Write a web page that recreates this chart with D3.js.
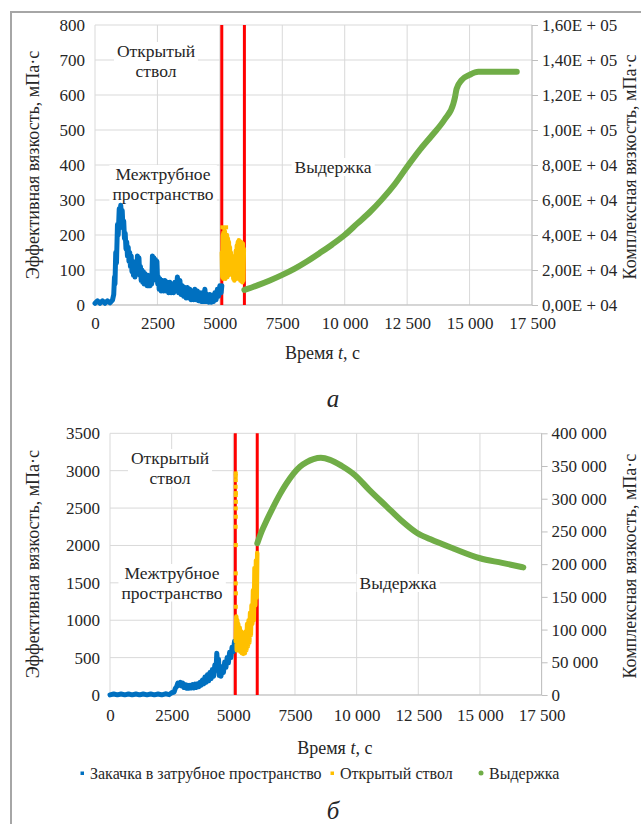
<!DOCTYPE html>
<html><head><meta charset="utf-8">
<script src="https://cdn.jsdelivr.net/npm/d3@7"></script>
<style>
body{margin:0;background:#fff}
svg{display:block}
</style>
</head><body><svg id="c" width="641" height="824"></svg>
<script>
// ---------- shared x axis ----------
const xTicks = [0, 2500, 5000, 7500, 10000, 12500, 15000, 17500];
const xTickLabels = ["0", "2500", "5000", "7500", "10 000", "12 500", "15 000", "17 500"];

// ---------- panel a ----------
const aLeftTicks = [0, 100, 200, 300, 400, 500, 600, 700, 800];
const aLeftLabels = ["0", "100", "200", "300", "400", "500", "600", "700", "800"];
const aRightTicks = [0, 20000, 40000, 60000, 80000, 100000, 120000, 140000, 160000];
const aRightLabels = ["0,00E + 04", "2,00E + 04", "4,00E + 04", "6,00E + 04", "8,00E + 04",
  "1,00E + 05", "1,20E + 05", "1,40E + 05", "1,60E + 05"];
const aRedLines = [5077, 5983];
// effective viscosity, annulus injection (t, mPa·s)
const aBlue = [[0,5],[100,12],[200,5],[300,12],[400,5],[500,12],[600,6],[700,14],[750,30],[780,80],[800,60],
  [830,150],[860,120],[900,230],[930,200],[970,275],[1000,250],[1030,285],[1060,255],[1090,270],[1120,220],
  [1150,240],[1180,190],[1210,205],[1240,160],[1270,180],[1300,140],[1330,165],[1360,125],[1390,150],[1420,110],
  [1450,140],[1480,95],[1510,125],[1540,85],[1570,115],[1600,80],[1630,110],[1660,90],[1700,140],[1730,100],
  [1760,135],[1790,85],[1820,110],[1850,70],[1880,100],[1910,65],[1940,95],[1970,60],[2000,90],[2030,60],
  [2060,85],[2090,55],[2120,85],[2150,55],[2180,80],[2210,55],[2240,80],[2270,60],[2300,140],[2330,70],
  [2360,135],[2390,80],[2420,130],[2450,75],[2480,125],[2510,60],[2540,80],[2570,45],[2600,75],[2650,40],
  [2700,70],[2750,40],[2800,70],[2850,40],[2900,65],[2950,35],[3000,65],[3050,35],[3100,60],[3150,35],
  [3200,65],[3250,40],[3300,80],[3350,35],[3400,70],[3450,30],[3500,55],[3550,25],[3600,50],[3650,20],
  [3700,50],[3750,20],[3800,45],[3850,15],[3900,40],[3950,15],[4000,45],[4050,15],[4100,40],[4150,12],
  [4200,35],[4250,10],[4300,35],[4350,10],[4400,45],[4450,10],[4500,30],[4550,8],[4600,30],[4650,8],
  [4700,28],[4750,10],[4800,35],[4850,15],[4900,45],[4950,25],[5000,55],[5050,35],[5080,55]];
// effective viscosity, open hole
const aYellow = [[5080,150],[5100,80],[5120,200],[5140,75],[5160,205],[5180,80],[5200,210],[5220,75],[5240,200],
  [5260,80],[5280,200],[5300,80],[5320,190],[5340,85],[5360,180],[5380,90],[5400,165],[5420,90],[5440,150],
  [5460,95],[5480,125],[5500,85],[5520,115],[5540,75],[5560,125],[5580,70],[5600,140],[5620,75],[5640,155],
  [5660,75],[5680,170],[5700,80],[5720,180],[5740,80],[5760,185],[5780,75],[5800,182],[5820,70],[5840,180],
  [5860,68],[5880,178],[5900,65],[5920,175],[5940,70],[5960,160]];
const aYellowDots = [[5100,222],[5180,215],[5250,222],[5140,205]];
// complex viscosity, holding (right axis)
const aGreen = [[5983,8600],[6500,11200],[7000,14000],[7500,17200],[8000,20800],[8500,25000],[9000,29700],
  [9500,34600],[10000,40000],[10500,46500],[11000,53000],[11500,60500],[12000,69000],[12500,79000],
  [13000,88500],[13500,97000],[14000,106000],[14350,115000],[14420,119000],[14480,123500],[14680,128500],
  [15000,131500],[15350,133300],[16000,133300],[16890,133300]];

// ---------- panel б ----------
const bLeftTicks = [0, 500, 1000, 1500, 2000, 2500, 3000, 3500];
const bLeftLabels = ["0", "500", "1000", "1500", "2000", "2500", "3000", "3500"];
const bRightTicks = [0, 50000, 100000, 150000, 200000, 250000, 300000, 350000, 400000];
const bRightLabels = ["0", "50 000", "100 000", "150 000", "200 000", "250 000", "300 000", "350 000", "400 000"];
const bRedLines = [5080, 5970];
const bBlue = [[0,2],[150,14],[300,2],[450,14],[600,2],[750,14],[900,2],[1050,14],[1200,2],[1350,14],[1500,2],
  [1650,14],[1800,2],[1950,14],[2100,2],[2250,16],[2400,5],[2500,30],[2600,40],[2650,90],[2700,110],
  [2750,160],[2800,130],[2850,170],[2900,120],[2950,160],[3000,100],[3050,140],[3100,90],[3150,130],[3200,90],
  [3250,130],[3300,95],[3350,140],[3400,95],[3450,145],[3500,100],[3550,150],[3600,110],[3650,170],[3700,130],
  [3750,200],[3800,150],[3850,240],[3900,170],[3950,270],[4000,190],[4050,300],[4100,220],[4150,340],[4200,250],
  [4250,400],[4300,330],[4330,560],[4360,420],[4400,480],[4430,260],[4470,330],[4500,250],[4550,380],[4600,300],
  [4650,440],[4700,370],[4750,500],[4800,430],[4850,570],[4900,500],[4950,640],[5000,580],[5050,720],[5080,680]];
const bYellow = [[5100,720],[5120,1050],[5140,600],[5160,1000],[5180,620],[5200,950],[5230,600],[5260,900],
  [5290,580],[5320,850],[5350,560],[5380,800],[5410,550],[5440,780],[5470,560],[5500,850],[5530,600],
  [5560,950],[5590,650],[5620,1000],[5650,700],[5680,1100],[5710,800],[5740,1200],[5770,950],[5800,1400],
  [5830,1000],[5860,1700],[5890,1200],[5920,1800],[5950,1300],[5970,1900]];
const bYellowDots = [[5100,2964],[5100,2874],[5095,2785],[5100,2674],[5105,2584],[5100,2496],[5100,2384],
  [5095,2250],[5100,2005],[5100,1627],[5100,1493],[5105,1360],[5100,1180],[5100,2930],[5105,2700]];
const bGreen = [[5973,232000],[6150,250000],[6354,267000],[6600,286000],[6893,307000],[7150,323000],
  [7432,338000],[7700,349000],[7976,356000],[8250,360500],[8550,362500],[8920,359500],[9400,350000],
  [9934,336000],[10500,314000],[11219,288000],[11800,267000],[12435,248000],[13000,238000],[13920,224000],
  [15002,209000],[15900,202000],[16758,195000]];

const legendItems = ["Закачка в затрубное пространство", "Открытый ствол", "Выдержка"];

// pick an installed serif face (Times-like) if there is one
function pickFont(){
  const cands = ["Liberation Serif","Tinos","Times New Roman","DejaVu Serif","Noto Serif","FreeSerif","Nimbus Roman"];
  const cv = document.createElement("canvas").getContext("2d");
  const s = "Открытый ствол 0123456789 Wwmm";
  function w(f){ cv.font = "40px " + f; return cv.measureText(s).width; }
  const baseM = w("monospace"), baseS = w("sans-serif");
  for (const c of cands){
    if (w(`"${c}", monospace`) !== baseM || w(`"${c}", sans-serif`) !== baseS) return `"${c}", serif`;
  }
  return `"Liberation Sans", Arial, sans-serif`;
}
const FONT = pickFont();

const COL = {blue:"#0070c0", yellow:"#ffc000", green:"#70ad47", red:"#ff0000", grid:"#d9d9d9", axis:"#bfbfbf", text:"#262626"};
const svg = d3.select("#c").attr("font-family", FONT).style("font-family", FONT);

// frame
svg.append("rect").attr("x",11).attr("y",12).attr("width",700).attr("height",900)
  .attr("fill","none").attr("stroke","#a6a6a6").attr("stroke-width",2);

function txt(sel){ return sel.style("font-family", FONT).attr("fill", COL.text); }

function panel(c){
  const g = svg.append("g");
  const x = d3.scaleLinear().domain([0,17500]).range([c.l,c.r]);
  const yL = d3.scaleLinear().domain([0,c.lMax]).range([c.b,c.t]);
  const yR = d3.scaleLinear().domain([0,c.rMax]).range([c.b,c.t]);

  // grid
  g.append("g").selectAll("line").data(c.lTicks).join("line")
    .attr("x1",c.l).attr("x2",c.r).attr("y1",d=>yL(d)).attr("y2",d=>yL(d))
    .attr("stroke",COL.grid).attr("stroke-width",1);
  g.append("g").selectAll("line").data(xTicks).join("line")
    .attr("x1",d=>x(d)).attr("x2",d=>x(d)).attr("y1",c.t).attr("y2",c.b)
    .attr("stroke",COL.grid).attr("stroke-width",1);
  g.append("line").attr("x1",c.l).attr("x2",c.r).attr("y1",c.b).attr("y2",c.b)
    .attr("stroke",COL.axis).attr("stroke-width",1);

  // axes
  const ax = g.append("g").attr("transform",`translate(0,${c.b})`)
    .call(d3.axisBottom(x).tickValues(xTicks).tickFormat((d,i)=>xTickLabels[i]).tickSize(0).tickPadding(c.xPad));
  const al = g.append("g").attr("transform",`translate(${c.l},0)`)
    .call(d3.axisLeft(yL).tickValues(c.lTicks).tickFormat((d,i)=>c.lLabels[i]).tickSize(0).tickPadding(10));
  const ar = g.append("g").attr("transform",`translate(${c.r},0)`)
    .call(d3.axisRight(yR).tickValues(c.rTicks).tickFormat((d,i)=>c.rLabels[i]).tickSize(6).tickPadding(4));
  [ax,al,ar].forEach(a=>{
    a.attr("font-family", FONT);
    a.select(".domain").remove();
    txt(a.selectAll("text")).attr("font-size",17);
  });
  ar.selectAll(".tick line").attr("stroke",COL.axis);
  ar.append("line").attr("x1",0).attr("x2",0).attr("y1",c.t).attr("y2",c.b).attr("stroke",COL.axis);

  // annotations (white boxes like text boxes)
  const ann = g.append("g").attr("font-size",17.5).attr("text-anchor","middle");
  c.notes.forEach(n=>{
    const t = txt(ann.append("text")).attr("x",n.x).attr("y",n.y);
    n.lines.forEach((s,i)=> t.append("tspan").attr("x",n.x).attr("dy", i===0 ? 0 : 19.5).text(s));
    const bb = t.node().getBBox();
    ann.insert("rect", () => t.node()).attr("x",bb.x-3).attr("y",bb.y+1)
      .attr("width",bb.width+6).attr("height",bb.height-2).attr("fill","#fff");
  });

  // red boundaries
  g.append("g").selectAll("line").data(c.red).join("line")
    .attr("x1",d=>x(d)).attr("x2",d=>x(d)).attr("y1",c.t).attr("y2",c.b)
    .attr("stroke",COL.red).attr("stroke-width",3);

  const lineL = d3.line().x(d=>x(d[0])).y(d=>yL(d[1]));
  const lineR = d3.line().x(d=>x(d[0])).y(d=>yR(d[1])).curve(d3.curveMonotoneX);

  g.append("path").attr("d",lineL(c.blue)).attr("fill","none").attr("stroke",COL.blue)
    .attr("stroke-width",5).attr("stroke-linejoin","round").attr("stroke-linecap","round");
  g.append("path").attr("d",lineL(c.yellow)).attr("fill","none").attr("stroke",COL.yellow)
    .attr("stroke-width",4.5).attr("stroke-linejoin","round").attr("stroke-linecap","round");
  g.append("g").selectAll("rect").data(c.yDots).join("rect")
    .attr("x",d=>x(d[0])-2).attr("y",d=>yL(d[1])-2).attr("width",4).attr("height",4).attr("fill",COL.yellow);
  g.append("path").attr("d",lineR(c.green)).attr("fill","none").attr("stroke",COL.green)
    .attr("stroke-width",6).attr("stroke-linejoin","round").attr("stroke-linecap","round");

  // axis titles
  txt(g.append("text")).attr("font-size",18).attr("text-anchor","middle")
    .attr("transform",`translate(${c.ltX},${(c.t+c.b)/2}) rotate(-90)`).attr("dominant-baseline","central")
    .text("Эффективная вязкость, мПа·с");
  txt(g.append("text")).attr("font-size",18).attr("text-anchor","middle")
    .attr("transform",`translate(${c.rtX},${(c.t+c.b)/2+2}) rotate(-90)`).attr("dominant-baseline","central")
    .text("Комплексная вязкость, мПа·с");
  const xt = txt(g.append("text")).attr("font-size",18).attr("text-anchor","middle")
    .attr("x",(c.l+c.r)/2+9).attr("y",c.xtY).attr("dominant-baseline","central");
  xt.append("tspan").text("Время ");
  xt.append("tspan").attr("font-style","italic").text("t");
  xt.append("tspan").text(", с");

  txt(g.append("text")).attr("font-size",25).attr("font-style","italic").attr("text-anchor","middle")
    .attr("x",333).attr("y",c.capY).attr("dominant-baseline","central").text(c.cap);
}

panel({l:95, r:532, t:25, b:305, lMax:800, rMax:160000,
  lTicks:aLeftTicks, lLabels:aLeftLabels, rTicks:aRightTicks, rLabels:aRightLabels,
  red:aRedLines, blue:aBlue, yellow:aYellow, yDots:aYellowDots, green:aGreen,
  notes:[{lines:["Открытый","ствол"],x:156,y:57},{lines:["Межтрубное","пространство"],x:163,y:180},
         {lines:["Выдержка"],x:333,y:173}],
  xPad:12, ltX:33, rtX:630, xtY:353, cap:"а", capY:398});

panel({l:110, r:541.6, t:433.3, b:695, lMax:3500, rMax:400000,
  lTicks:bLeftTicks, lLabels:bLeftLabels, rTicks:bRightTicks, rLabels:bRightLabels,
  red:bRedLines, blue:bBlue, yellow:bYellow, yDots:bYellowDots, green:bGreen,
  notes:[{lines:["Открытый","ствол"],x:170,y:464},{lines:["Межтрубное","пространство"],x:172,y:579},
         {lines:["Выдержка"],x:398,y:589}],
  xPad:14, ltX:33, rtX:630, xtY:748, cap:"б", capY:810});

// legend
const lg = svg.append("g").attr("font-size",16);
const legX = [90, 340, 489];
const legCol = [COL.blue, COL.yellow, COL.green];
legendItems.forEach((s,i)=>{
  if(i<2) lg.append("rect").attr("x",legX[i]-9.5).attr("y",771.5).attr("width",3.5).attr("height",3.5).attr("fill",legCol[i]);
  else lg.append("circle").attr("cx",legX[i]-8).attr("cy",773).attr("r",2.5).attr("fill",legCol[i]);
  txt(lg.append("text")).attr("x",legX[i]).attr("y",773).attr("dominant-baseline","central").text(s);
});
</script></body></html>
